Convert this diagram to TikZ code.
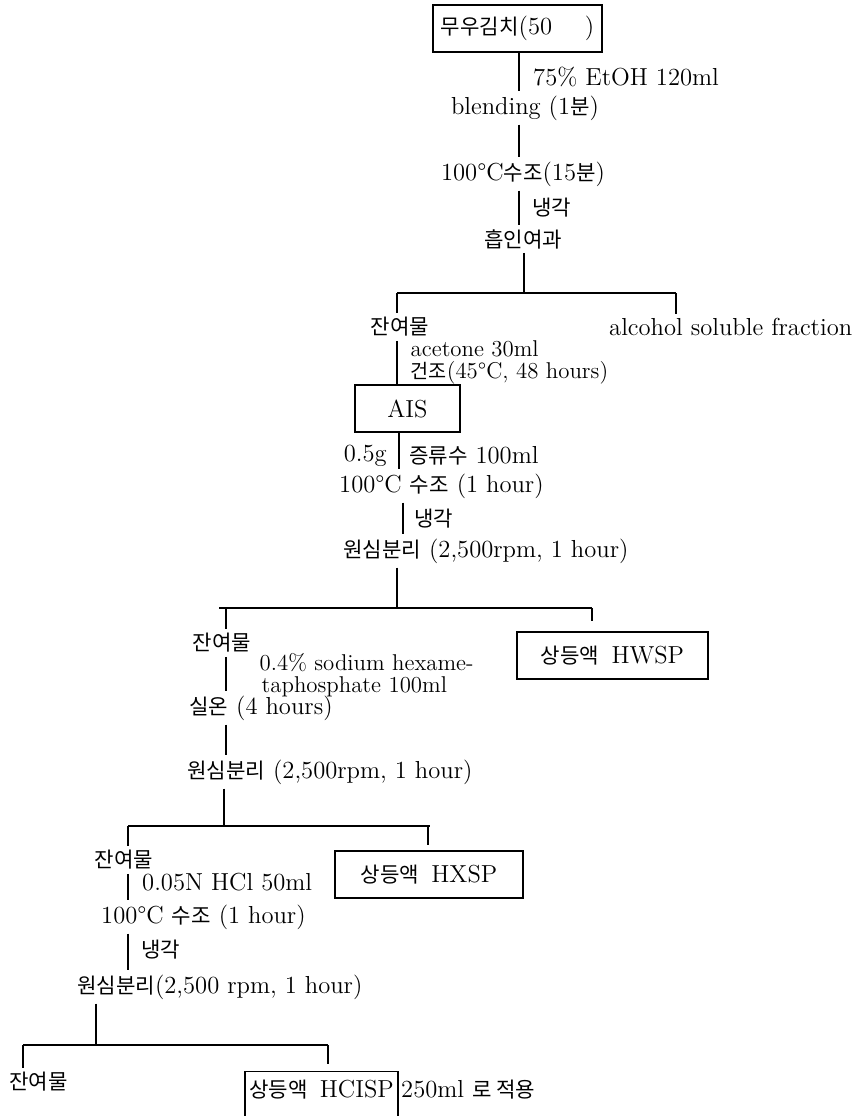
\documentclass[tikz,border=0pt]{standalone}
\usepackage{fontspec}
\newfontfamily\kr[Scale=0.86]{Noto Sans CJK KR}
\newcommand{\ko}[1]{{\kr #1}}
\begin{document}
\begin{tikzpicture}[
    x=0.02cm, y=-0.02cm,
    line width=0.8pt,
    txt/.style={font=\fontsize{14}{16}\selectfont, inner sep=2pt},
    lbl/.style={txt, anchor=west},
    sub/.style={lbl, font=\fontsize{13}{15}\selectfont, inner sep=0pt},
    box/.style={txt, draw, minimum height=0.94cm},
  ]
    \useasboundingbox (0,0) rectangle (862,1116);

    % === kimchi -> AIS ===
    \node[box, minimum width=3.38cm] (kim) at (517.5,28.5) {\ko{무우김치}(50\quad\ )};
    \node[txt] (blend) at (525,108) {blending (1\ko{분})};
    \node[txt] (bath1) at (523,174) {100°C\ko{수조}(15\ko{분})};
    \node[txt] (filt) at (523,239) {\ko{흡인여과}};
    \node[txt] (res1) at (400,327) {\ko{잔여물}};
    \node[lbl] (alc) at (605,327) {alcohol soluble fraction};
    \node[box, minimum width=2.1cm] (ais) at (407.5,408.5) {AIS};
    \node[lbl] (etoh) at (529,77) {75\% EtOH 120ml};
    \node[lbl] (cool1) at (528,208) {\ko{냉각}};
    \node[sub] (acet) at (410,349) {acetone 30ml};
    \node[sub] (dry) at (410,373) {\ko{건조}(45°C, 48 hours)};

    \coordinate (a1) at (519,0);
    \coordinate (s1) at (524,293);
    \coordinate (s1l) at (397,293);
    \coordinate (s1r) at (676,293);
    \draw (kim.south -| a1) -- (blend.north -| a1);
    \draw (blend.south -| a1) -- (bath1.north -| a1);
    \draw (bath1.south -| a1) -- (filt.north -| a1);
    \draw (filt.south -| s1) -- (s1);
    \draw (s1l) -- (s1r);
    \draw (s1l) -- (res1.north -| s1l);
    \draw (s1r) -- (alc.north -| s1r);
    \draw (res1.south -| s1l) -- (ais.north -| s1l);

    % === AIS -> HWSP ===
    \node[txt, anchor=east] (gram) at (391,456) {0.5g};
    \node[lbl] (dw) at (405,456) {\ko{증류수} 100ml};
    \node[lbl] (bath2) at (335,486) {100°C \ko{수조} (1 hour)};
    \node[lbl] (cool2) at (410,519) {\ko{냉각}};
    \node[lbl] (cent1) at (339,551) {\ko{원심분리} (2,500rpm, 1 hour)};
    \node[txt] (res2) at (222,643) {\ko{잔여물}};
    \node[box, minimum width=3.82cm] (hwsp) at (612.5,655.5) {\ko{상등액}\enspace HWSP};

    \coordinate (a2) at (399,0);
    \coordinate (a3) at (403,0);
    \coordinate (s2) at (397,608);
    \coordinate (s2l) at (219,608);
    \coordinate (s2r) at (592,608);
    \coordinate (d2l) at (226,608);
    \draw (ais.south -| a2) -- (bath2.north -| a2);
    \draw (bath2.south -| a3) -- (cent1.north -| a3);
    \draw (cent1.south -| s2) -- (s2);
    \draw (s2l) -- (s2r);
    \draw (d2l) -- (res2.north -| d2l);
    \draw (s2r) -- ([yshift=0.2cm]hwsp.north -| s2r);

    % === HWSP -> HXSP ===
    \node[sub] (hexa1) at (259,663) {0.4\% sodium hexame-};
    \node[sub] (hexa2) at (261,687) {taphosphate 100ml};
    \node[lbl] (rt) at (185,708) {\ko{실온} (4 hours)};
    \node[lbl] (cent2) at (183,772) {\ko{원심분리} (2,500rpm, 1 hour)};
    \node[txt] (res3) at (124,860) {\ko{잔여물}};
    \node[box, minimum width=3.76cm] (hxsp) at (429,874.5) {\ko{상등액}\enspace HXSP};

    \coordinate (a4) at (226,0);
    \coordinate (s3) at (224,826);
    \coordinate (s3l) at (128,826);
    \coordinate (s3r) at (430,826);
    \coordinate (d3r) at (428,826);
    \draw (res2.south -| a4) -- (rt.north -| a4);
    \draw (rt.south -| a4) -- (cent2.north -| a4);
    \draw (cent2.south -| s3) -- (s3);
    \draw (s3l) -- (s3r);
    \draw (s3l) -- (res3.north -| s3l);
    \draw (d3r) -- ([yshift=0.1cm]hxsp.north -| d3r);

    % === HXSP -> HCISP ===
    \node[lbl] (hcl) at (138,882) {0.05N HCl 50ml};
    \node[lbl] (bath3) at (97,917) {100°C \ko{수조} (1 hour)};
    \node[lbl] (cool3) at (137,950) {\ko{냉각}};
    \node[lbl] (cent3) at (73,987) {\ko{원심분리}(2,500 rpm, 1 hour)};
    \node[lbl] (res4) at (5,1082) {\ko{잔여물}};
    \node[txt, minimum width=2.86cm, minimum height=0.72cm] (hcisp) at (321.5,1090) {\ko{상등액}\enspace HCISP};
    \node[lbl] (dil) at (397,1090) {250ml \ko{로 적용}};

    \coordinate (a5) at (128,0);
    \coordinate (s4) at (96,1045);
    \coordinate (s4l) at (23,1045);
    \coordinate (s4r) at (328,1045);
    \draw (res3.south -| a5) -- (bath3.north -| a5);
    \draw (bath3.south -| a5) -- (cent3.north -| a5);
    \draw (cent3.south -| s4) -- (s4);
    \draw (s4l) -- (s4r);
    \draw (s4l) -- (res4.north -| s4l);
    \draw (s4r) -- ([yshift=0.15cm]hcisp.north -| s4r);
    \draw ([yshift=-0.3cm]hcisp.south west) |- (hcisp.north east) -- ([yshift=-0.3cm]hcisp.south east);
  \end{tikzpicture}
\end{document}
